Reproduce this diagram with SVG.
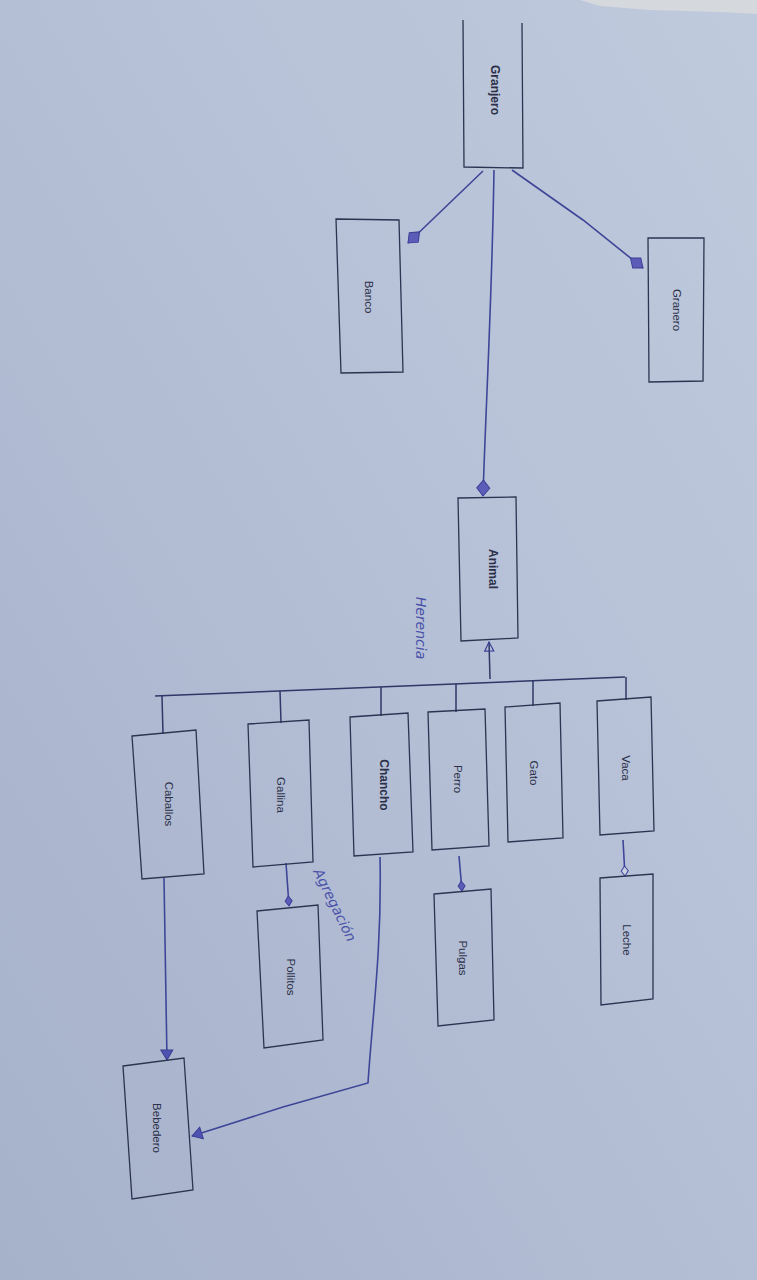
<svg xmlns="http://www.w3.org/2000/svg" width="757" height="1280" viewBox="0 0 757 1280">
<defs>
<linearGradient id="paper" x1="1" y1="0" x2="0" y2="1">
<stop offset="0" stop-color="#c0cadd"/>
<stop offset="0.5" stop-color="#b4bfd6"/>
<stop offset="1" stop-color="#a6b1ca"/>
</linearGradient>
<marker id="fdia" markerUnits="userSpaceOnUse" markerWidth="22" markerHeight="16" refX="18" refY="8" orient="auto">
<path d="M2,8 L10,1.5 L18,8 L10,14.5 Z" fill="#5c5cb8" stroke="#3a3f96" stroke-width="1"/>
</marker>
<marker id="sdia" markerUnits="userSpaceOnUse" markerWidth="14" markerHeight="10" refX="11" refY="5" orient="auto">
<path d="M1,5 L6,1.5 L11,5 L6,8.5 Z" fill="#5c5cb8" stroke="#3a3f96" stroke-width="1"/>
</marker>
<marker id="odia" markerUnits="userSpaceOnUse" markerWidth="14" markerHeight="10" refX="11" refY="5" orient="auto">
<path d="M1,5 L6,1.5 L11,5 L6,8.5 Z" fill="#c8d0e2" stroke="#3a3f96" stroke-width="1"/>
</marker>
<marker id="farr" markerUnits="userSpaceOnUse" markerWidth="14" markerHeight="14" refX="11" refY="7" orient="auto">
<path d="M1,1 L11,7 L1,13 Z" fill="#4e52b0" stroke="#3a3f96" stroke-width="1"/>
</marker>
<marker id="oarr" markerUnits="userSpaceOnUse" markerWidth="14" markerHeight="12" refX="10" refY="6" orient="auto">
<path d="M1,1.5 L10,6 L1,10.5 Z" fill="none" stroke="#3a3f96" stroke-width="1.2"/>
</marker>
</defs>
<style>
.box{fill:none;stroke:#2b3450;stroke-width:1.3}
.lbl{font-family:"Liberation Sans",Arial,sans-serif;font-size:11.5px;fill:#2b3048;text-anchor:middle;dominant-baseline:central}
.b{font-weight:bold;font-size:12px}
.pen{fill:none;stroke:#3f4698;stroke-width:1.6}
.blk{fill:none;stroke:#2e3766;stroke-width:1.5}
.hand{font-family:"DejaVu Sans",sans-serif;font-size:14px;fill:#4a52a8;font-style:italic;dominant-baseline:central;text-anchor:middle}
</style>
<rect width="757" height="1280" fill="url(#paper)"/>
<polygon points="580,0 757,0 757,14 720,12 650,10 600,6" fill="#d5d8dc"/>

<g id="connectors">
<path class="pen" d="M483,171 L408,243" marker-end="url(#fdia)"/>
<path class="pen" d="M512,170 L583,220 L643,268" marker-end="url(#fdia)"/>
<path class="pen" d="M494,170 C492,300 486,400 483,496" marker-end="url(#fdia)"/>
<path class="blk" d="M155,696 L625,677"/>
<path class="blk" d="M490,679 L489,642" marker-end="url(#oarr)"/>
<path class="blk" d="M162,696 L163,734"/>
<path class="blk" d="M280,691 L281,723"/>
<path class="blk" d="M381,687 L381,716"/>
<path class="blk" d="M456,684 L456,712"/>
<path class="blk" d="M533,681 L533,706"/>
<path class="blk" d="M626,677 L626,700"/>
<path class="pen" d="M286,863 L289,906" marker-end="url(#sdia)"/>
<path class="pen" d="M459,856 L462,891" marker-end="url(#sdia)"/>
<path class="pen" d="M623,840 L625,876" marker-end="url(#odia)"/>
<path class="pen" d="M164,878 L167,1060" marker-end="url(#farr)"/>
<path class="pen" d="M380,857 C382,950 372,1020 368,1083 L283,1107 L192,1136" marker-end="url(#farr)"/>
</g>

<g id="granjero">
<path class="box" d="M463,20 L464,167 L523,168 L522,23"/>
<text class="lbl b" transform="translate(495,90) rotate(90)">Granjero</text>
</g>
<g id="banco">
<polygon class="box" points="336,219 399,220 403,372 341,373"/>
<text class="lbl" transform="translate(369,297) rotate(90)">Banco</text>
</g>
<g id="granero">
<polygon class="box" points="648,238 704,238 703,381 649,382"/>
<text class="lbl" transform="translate(677,310) rotate(90)">Granero</text>
</g>
<g id="animal">
<polygon class="box" points="458,498 516,497 518,638 461,641"/>
<text class="lbl b" transform="translate(493,569) rotate(90)">Animal</text>
<text class="hand" transform="translate(421,628) rotate(90)">Herencia</text>
</g>
<g id="caballos">
<polygon class="box" points="132,736 196,730 204,874 142,879"/>
<text class="lbl" transform="translate(169,804) rotate(90)">Caballos</text>
</g>
<g id="gallina">
<polygon class="box" points="248,724 309,720 313,862 253,867"/>
<text class="lbl" transform="translate(281,795) rotate(90)">Gallina</text>
</g>
<g id="chancho">
<polygon class="box" points="350,717 408,713 413,852 354,856"/>
<text class="lbl b" transform="translate(384,785) rotate(90)">Chancho</text>
</g>
<g id="perro">
<polygon class="box" points="428,712 485,709 489,846 432,850"/>
<text class="lbl" transform="translate(458,779) rotate(90)">Perro</text>
</g>
<g id="gato">
<polygon class="box" points="505,707 560,703 563,838 508,842"/>
<text class="lbl" transform="translate(534,773) rotate(90)">Gato</text>
</g>
<g id="vaca">
<polygon class="box" points="597,701 651,697 654,831 600,835"/>
<text class="lbl" transform="translate(626,768) rotate(90)">Vaca</text>
</g>
<g id="pollitos">
<polygon class="box" points="257,911 318,905 323,1040 264,1048"/>
<text class="lbl" transform="translate(291,977) rotate(90)">Pollitos</text>
<text class="hand" transform="translate(335,905) rotate(64)">Agregación</text>
</g>
<g id="pulgas">
<polygon class="box" points="434,894 491,889 494,1020 438,1026"/>
<text class="lbl" transform="translate(463,958) rotate(90)">Pulgas</text>
</g>
<g id="leche">
<polygon class="box" points="600,878 653,874 653,999 601,1005"/>
<text class="lbl" transform="translate(627,940) rotate(90)">Leche</text>
</g>
<g id="bebedero">
<polygon class="box" points="123,1066 184,1058 193,1190 132,1199"/>
<text class="lbl" transform="translate(157,1128) rotate(90)">Bebedero</text>
</g>
</svg>
